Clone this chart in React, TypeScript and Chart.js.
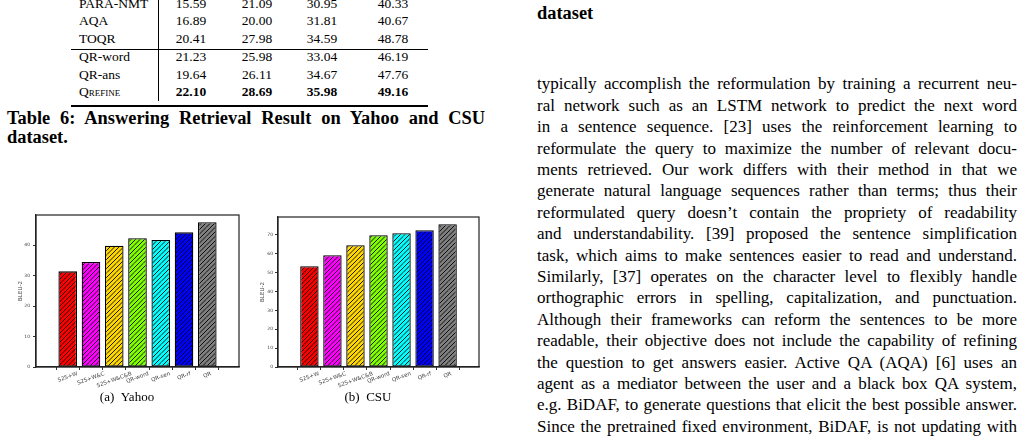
import { useEffect, useRef } from "react"
import { Chart, registerables } from "chart.js"

Chart.register(...registerables)

// bar chart data (BLEU-2)
const methods = ["S2S+W", "S2S+W&C", "S2S+W&C&B", "QR-word", "QR-sen", "QR-rf", "QR"]
const yahooBleu = [31.4, 34.5, 39.8, 42.3, 41.7, 44.2, 47.5]
const csuBleu = [53.4, 59.2, 64.5, 69.8, 70.9, 72.5, 75.7]
const yahooTicks = [0, 10, 20, 30, 40]
const csuTicks = [0, 10, 20, 30, 40, 50, 60, 70]
const barColors = ["#ff0000", "#ff00ff", "#ffd700", "#7fff00", "#00ffff", "#0000ff", "#7f7f7f"]

// table 6 rows
const tableRows = ["PARA-NMT", "AQA", "TOQR", "QR-word", "QR-ans", "Qrefine"]
const tableCols = [
  ["15.59", "16.89", "20.41", "21.23", "19.64", "22.10"],
  ["21.09", "20.00", "27.98", "25.98", "26.11", "28.69"],
  ["30.95", "31.81", "34.59", "33.04", "34.67", "35.98"],
  ["40.33", "40.67", "48.78", "46.19", "47.76", "49.16"],
]

const paragraph = [
  "typically accomplish the reformulation by training a recurrent neu-",
  "ral network such as an LSTM network to predict the next word",
  "in a sentence sequence. [23] uses the reinforcement learning to",
  "reformulate the query to maximize the number of relevant docu-",
  "ments retrieved. Our work differs with their method in that we",
  "generate natural language sequences rather than terms; thus their",
  "reformulated query doesn\u2019t contain the propriety of readability",
  "and understandability. [39] proposed the sentence simplification",
  "task, which aims to make sentences easier to read and understand.",
  "Similarly, [37] operates on the character level to flexibly handle",
  "orthographic errors in spelling, capitalization, and punctuation.",
  "Although their frameworks can reform the sentences to be more",
  "readable, their objective does not include the capability of refining",
  "the question to get answers easier. Active QA (AQA) [6] uses an",
  "agent as a mediator between the user and a black box QA system,",
  "e.g. BiDAF, to generate questions that elicit the best possible answer.",
  "Since the pretrained fixed environment, BiDAF, is not updating with",
]

function hatch(color: string) {
  const size = 9
  const c = document.createElement("canvas")
  c.width = size
  c.height = size
  const g = c.getContext("2d")!
  g.fillStyle = color
  g.fillRect(0, 0, size, size)
  g.strokeStyle = "#000"
  g.lineWidth = 0.9
  g.beginPath()
  for (const k of [0, 4.5, 9, 13.5, 18]) {
    g.moveTo(0, k)
    g.lineTo(k, 0)
  }
  g.stroke()
  return g.createPattern(c, "repeat")!
}

const framePlugin = {
  id: "frame",
  afterDraw(chart: any) {
    const { ctx, chartArea: a } = chart
    ctx.save()
    ctx.strokeStyle = "#222"
    ctx.lineWidth = 1.2
    ctx.strokeRect(a.left, a.top, a.right - a.left, a.bottom - a.top)
    ctx.restore()
  },
}

// rotated labels centred under each bar, like matplotlib
const xLabelPlugin = {
  id: "xLabels",
  afterDraw(chart: any) {
    const { ctx } = chart
    const xs = chart.scales.x
    const base = chart.chartArea.bottom + 4
    const ang = (20 * Math.PI) / 180
    const fs = 5.5
    ctx.save()
    ctx.font = `${fs}px 'DejaVu Sans'`
    ctx.fillStyle = "#444"
    ctx.textAlign = "center"
    ctx.textBaseline = "middle"
    methods.forEach((label, i) => {
      const w = ctx.measureText(label).width
      const h = w * Math.sin(ang) + fs * Math.cos(ang)
      ctx.save()
      ctx.translate(xs.getPixelForValue(i), base + h / 2)
      ctx.rotate(-ang)
      ctx.fillText(label, 0, 0)
      ctx.restore()
    })
    ctx.restore()
  },
}

interface BarPanelProps {
  values: number[]
  yTicks: number[]
  yMax: number
  left: number
  width: number
  padTop: number
  tickPad: number
}

function BarPanel({ values, yTicks, yMax, left, width, padTop, tickPad }: BarPanelProps) {
  const canvasRef = useRef<HTMLCanvasElement>(null)

  useEffect(() => {
    if (!canvasRef.current) return
    const chart = new Chart(canvasRef.current, {
      type: "bar",
      data: {
        datasets: [
          {
            data: values.map((v, i) => ({ x: i, y: v })),
            backgroundColor: barColors.map(hatch),
            borderColor: "#000",
            borderWidth: 1.3,
            borderSkipped: false,
            barPercentage: 0.8,
            categoryPercentage: 1,
          },
        ],
      },
      options: {
        animation: false,
        responsive: true,
        maintainAspectRatio: false,
        layout: { padding: { top: padTop, right: 3, left: 0, bottom: 0 } },
        plugins: { legend: { display: false }, tooltip: { enabled: false } },
        scales: {
          x: {
            type: "linear",
            min: -0.74,
            max: 6.74,
            afterBuildTicks: (s: any) => {
              s.ticks = methods.map((_, i) => ({ value: i }))
            },
            afterFit: (s: any) => {
              s.height = 28
            },
            ticks: { display: false },
            grid: { drawOnChartArea: false, drawTicks: true, tickLength: 3, color: "#333" },
            border: { color: "#222", width: 1.2 },
          },
          y: {
            min: 0,
            max: yMax,
            afterBuildTicks: (s: any) => {
              s.ticks = yTicks.map((v) => ({ value: v }))
            },
            afterFit: (s: any) => {
              s.width = 19
            },
            ticks: {
              color: "#444",
              padding: tickPad,
              callback: (v: any) => String(v),
              font: { size: 4.5, family: "DejaVu Sans" },
            },
            grid: { drawOnChartArea: false, tickLength: 3, color: "#333" },
            border: { color: "#222", width: 1.2 },
            title: {
              display: true,
              text: "BLEU-2",
              color: "#444",
              padding: 0,
              font: { size: 5.5, family: "DejaVu Sans" },
            },
          },
        },
      },
      plugins: [framePlugin, xLabelPlugin],
    } as any)
    return () => chart.destroy()
  }, [values, yTicks, yMax, padTop, tickPad])

  return (
    <div style={{ position: "absolute", left, top: 205, width, height: 190 }}>
      <canvas ref={canvasRef}></canvas>
    </div>
  )
}

function At({ x, y, children, center = false, bold = false, size = 13.5 }: any) {
  return (
    <div
      style={{
        position: "absolute",
        left: x,
        top: y,
        transform: center ? "translate(-50%, -50%)" : "translateY(-50%)",
        whiteSpace: "nowrap",
        lineHeight: 1,
        fontSize: size,
        fontWeight: bold ? "bold" : "normal",
      }}
    >
      {children}
    </div>
  )
}

export default function App() {
  const rowY = [3.5, 21, 38.5, 56.5, 74.5, 92]
  const colX = [191, 257, 322, 393]
  const lineH = 21.4

  return (
    <div
      style={{
        position: "absolute",
        left: 0,
        top: 0,
        width: 1025,
        height: 440,
        overflow: "hidden",
        background: "#fff",
        color: "#000",
        fontFamily: "'Liberation Serif', serif",
      }}
    >
      {/* table 6 (bottom part) */}
      {tableRows.map((r, i) => (
        <At key={r} x={79} y={rowY[i]}>
          <span style={{ fontVariant: i === 5 ? "small-caps" : "normal" }}>{r}</span>
        </At>
      ))}
      {tableCols.map((col, c) =>
        col.map((v, i) => (
          <At key={`${c}-${i}`} x={colX[c]} y={rowY[i]} center bold={i === 5}>
            {v}
          </At>
        ))
      )}
      <div style={{ position: "absolute", left: 158, top: 0, width: 1, height: 101, background: "#000" }} />
      <div style={{ position: "absolute", left: 71, top: 48.5, width: 357, height: 1, background: "#000" }} />
      <div style={{ position: "absolute", left: 71, top: 104.5, width: 357, height: 2.5, background: "#000" }} />

      {/* table caption */}
      <div
        style={{
          position: "absolute",
          left: 7,
          top: 118 - 10,
          width: 478,
          fontSize: 18.4,
          lineHeight: "20px",
          fontWeight: "bold",
          textAlign: "justify",
          textAlignLast: "justify",
          whiteSpace: "nowrap",
        }}
      >
        Table 6: Answering Retrieval Result on Yahoo and CSU
      </div>
      <At x={7} y={137} bold size={18.4}>
        dataset.
      </At>

      {/* figure */}
      <BarPanel values={yahooBleu} yTicks={yahooTicks} yMax={49.9} left={17} width={225} padTop={10} tickPad={3} />
      <BarPanel values={csuBleu} yTicks={csuTicks} yMax={79.5} left={259} width={223} padTop={12} tickPad={2} />
      <At x={127} y={396} center size={13}>
        (a)&nbsp;&nbsp;Yahoo
      </At>
      <At x={368} y={396} center size={13}>
        (b)&nbsp;&nbsp;CSU
      </At>

      {/* right column */}
      <At x={537} y={13} bold size={18.4}>
        dataset
      </At>
      {paragraph.map((line, i) => (
        <div
          key={i}
          style={{
            position: "absolute",
            left: 537,
            top: 84 + i * lineH - lineH / 2,
            width: 480,
            height: lineH,
            fontSize: 17,
            lineHeight: `${lineH}px`,
            textAlign: "justify",
            textAlignLast: "justify",
            whiteSpace: "nowrap",
          }}
        >
          {line}
        </div>
      ))}
    </div>
  )
}
